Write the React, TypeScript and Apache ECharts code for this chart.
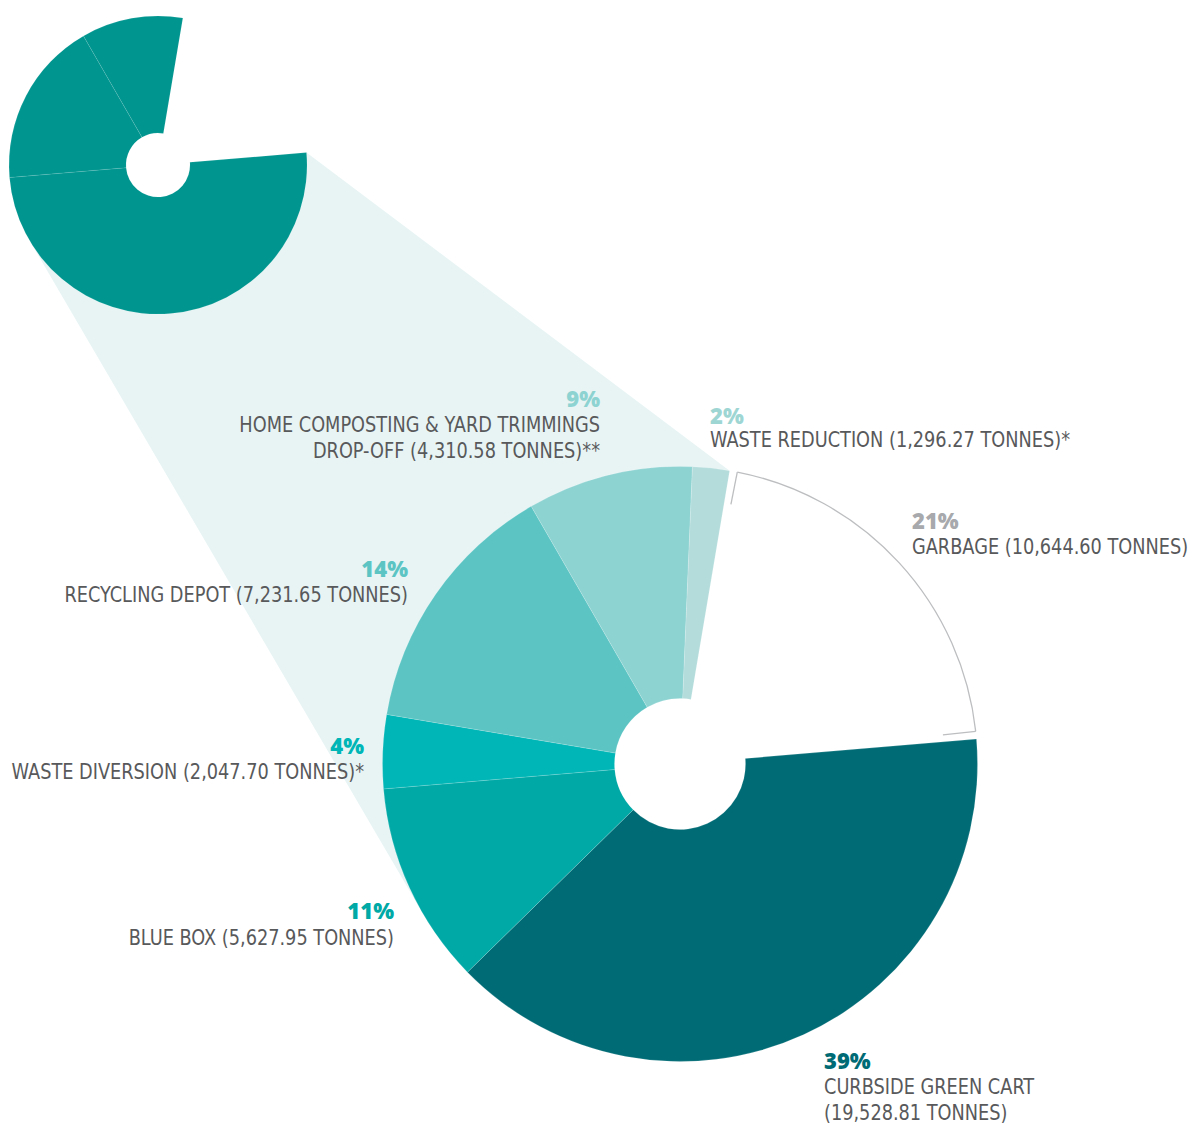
import React, { useEffect, useRef } from "react";
import * as echarts from "echarts";

// ---------- data ----------
const categories = [
  "GARBAGE",
  "CURBSIDE GREEN CART",
  "BLUE BOX",
  "WASTE DIVERSION",
  "RECYCLING DEPOT",
  "HOME COMPOSTING & YARD TRIMMINGS DROP-OFF",
  "WASTE REDUCTION",
];
const percents = [21, 39, 11, 4, 14, 9, 2];
const tonnes = [10644.6, 19528.81, 5627.95, 2047.7, 7231.65, 4310.58, 1296.27];
const notes = ["", "", "", "*", "", "**", "*"];
// diverted categories grouped in the zoomed pie (indexes into the arrays above)
const zoomGroups = [[1, 2], [3, 4], [5, 6]];

// ---------- styles / layout ----------
const sliceColors = ["#FFFFFF", "#006B75", "#00A9A6", "#00B6B6", "#5CC5C4", "#8DD3D2", "#B3DCDB"];
const pctColors = ["#A7A9AC", "#006B75", "#00A9A6", "#00B6B6", "#5CC5C4", "#8DD3D2", "#9ED6D4"];
const nameColor = "#58595B";
const zoomColor = "#00958F";
const funnelColor = "#E8F4F4";
const outlineColor = "#BCBEC0";

const MAIN = { cx: 680, cy: 764, r0: 65.5, r: 297.5 };
const ZOOM = { cx: 158, cy: 165, r0: 32, r: 149 };
const START_COMPASS = 9.6; // degrees clockwise from 12 o'clock where the first slice starts
const OUTLINE_INSET = 1.5;
const OUTLINE_LEN = 33;

const labelLayout = [
  { x: 912, align: "left", pctY: 520, nameY: 547, split: "" },
  { x: 824, align: "left", pctY: 1060, nameY: 1087, split: "CART " },
  { x: 394, align: "right", pctY: 910, nameY: 938, split: "" },
  { x: 364, align: "right", pctY: 745, nameY: 772, split: "" },
  { x: 408, align: "right", pctY: 568, nameY: 595, split: "" },
  { x: 600, align: "right", pctY: 398, nameY: 425, split: "TRIMMINGS " },
  { x: 710, align: "left", pctY: 415, nameY: 440, split: "" },
];
const LINE_H = 26;
const NAME_FONT = "'DejaVu Sans Condensed', 'DejaVu Sans', sans-serif";
const NAME_SCALE_X = 0.897;
const PCT_FONT = "'Open Sans', 'Noto Sans', sans-serif";

const fmt = (v: number) =>
  v.toLocaleString("en-US", { minimumFractionDigits: 2, maximumFractionDigits: 2 });

const rad = (d: number) => (d * Math.PI) / 180;
const pt = (c: { cx: number; cy: number }, R: number, compass: number) => [
  c.cx + R * Math.sin(rad(compass)),
  c.cy - R * Math.cos(rad(compass)),
];

function buildOption() {
  const total = percents.reduce((a, b) => a + b, 0);
  const echStart = 90 - START_COMPASS;
  const garbStart = START_COMPASS;
  const garbEnd = START_COMPASS + (360 * percents[0]) / total;

  // ---- funnel polygon (upper edge joins garbage edges, lower edge is common tangent) ----
  const dx = MAIN.cx - ZOOM.cx;
  const dy = MAIN.cy - ZOOM.cy;
  const D = Math.hypot(dx, dy);
  const dAng = Math.atan2(dy, dx);
  const phi = Math.acos((ZOOM.r - MAIN.r) / D);
  const mAng = dAng + phi;
  const m = [Math.cos(mAng), Math.sin(mAng)];
  const T1 = [ZOOM.cx + ZOOM.r * m[0], ZOOM.cy + ZOOM.r * m[1]];
  const T2 = [MAIN.cx + MAIN.r * m[0], MAIN.cy + MAIN.r * m[1]];
  const compassOf = (c: { cx: number; cy: number }, p: number[]) => {
    let a = (Math.atan2(p[0] - c.cx, -(p[1] - c.cy)) * 180) / Math.PI;
    if (a < 0) a += 360;
    return a;
  };
  const t2c = compassOf(MAIN, T2);
  const t1c = compassOf(ZOOM, T1);
  const poly: number[][] = [];
  poly.push(pt(ZOOM, ZOOM.r, garbEnd));
  poly.push(pt(MAIN, MAIN.r, garbStart));
  const mainFrom = garbStart + 360;
  for (let i = 1; i < 12; i++) {
    const a = mainFrom + ((t2c - mainFrom) * i) / 12;
    poly.push(pt(MAIN, MAIN.r - 2, a));
  }
  poly.push(T2);
  poly.push(T1);
  for (let i = 1; i < 12; i++) {
    const a = t1c + ((garbEnd - t1c) * i) / 12;
    poly.push(pt(ZOOM, ZOOM.r - 2, a));
  }

  const graphics: any[] = [
    {
      type: "polygon",
      z: -10,
      silent: true,
      shape: { points: poly },
      style: { fill: funnelColor },
    },
  ];

  // ---- garbage outline ----
  const oa = garbStart + OUTLINE_INSET;
  const ob = garbEnd - OUTLINE_INSET;
  graphics.push({
    type: "arc",
    z: 50,
    silent: true,
    shape: {
      cx: MAIN.cx,
      cy: MAIN.cy,
      r: MAIN.r,
      startAngle: rad(oa - 90),
      endAngle: rad(ob - 90),
      clockwise: true,
    },
    style: { stroke: outlineColor, lineWidth: 1.3, fill: "none" },
  });
  [oa, ob].forEach((a) => {
    const p1 = pt(MAIN, MAIN.r, a);
    const p2 = pt(MAIN, MAIN.r - OUTLINE_LEN, a);
    graphics.push({
      type: "line",
      z: 50,
      silent: true,
      shape: { x1: p1[0], y1: p1[1], x2: p2[0], y2: p2[1] },
      style: { stroke: outlineColor, lineWidth: 1.3 },
    });
  });

  // ---- labels ----
  categories.forEach((cat, i) => {
    const L = labelLayout[i];
    graphics.push({
      type: "text",
      z: 60,
      silent: true,
      x: L.x,
      y: L.pctY,
      style: {
        text: `${percents[i]}%`,
        fill: pctColors[i],
        fontFamily: PCT_FONT,
        fontWeight: 800,
        fontSize: 22,
        align: L.align,
        verticalAlign: "middle",
      },
    });
    const full = `${cat} (${fmt(tonnes[i])} TONNES)${notes[i]}`;
    let lines = [full];
    if (L.split) {
      const k = full.indexOf(L.split) + L.split.length;
      lines = [full.slice(0, k).trim(), full.slice(k).trim()];
    }
    lines.forEach((ln, j) => {
      graphics.push({
        type: "text",
        z: 60,
        silent: true,
        x: L.x,
        y: L.nameY + j * LINE_H,
        scaleX: NAME_SCALE_X,
        style: {
          text: ln,
          fill: nameColor,
          fontFamily: NAME_FONT,
          fontSize: 22,
          align: L.align,
          verticalAlign: "middle",
        },
      });
    });
  });

  const mainData = categories.map((c, i) => ({
    name: c,
    value: percents[i],
    itemStyle: { color: sliceColors[i] },
  }));
  const zoomData = [
    { name: categories[0], value: percents[0], itemStyle: { color: "rgba(0,0,0,0)", borderWidth: 0 } },
    ...zoomGroups.map((g) => ({
      name: g.map((k) => categories[k]).join(" + "),
      value: g.reduce((s, k) => s + percents[k], 0),
      itemStyle: { color: zoomColor },
    })),
  ];

  return {
    animation: false,
    series: [
      {
        type: "pie",
        name: "zoom",
        silent: true,
        center: [ZOOM.cx, ZOOM.cy],
        radius: [ZOOM.r0, ZOOM.r],
        startAngle: echStart,
        clockwise: true,
        label: { show: false },
        labelLine: { show: false },
        emphasis: { disabled: true },
        itemStyle: { borderColor: "rgba(255,255,255,0.12)", borderWidth: 0.8 },
        data: zoomData,
        z: 2,
      },
      {
        type: "pie",
        name: "main",
        silent: true,
        center: [MAIN.cx, MAIN.cy],
        radius: [MAIN.r0, MAIN.r],
        startAngle: echStart,
        clockwise: true,
        label: { show: false },
        labelLine: { show: false },
        emphasis: { disabled: true },
        itemStyle: { borderColor: "rgba(255,255,255,0.25)", borderWidth: 0.6 },
        data: mainData,
        z: 2,
      },
    ],
    graphic: { elements: graphics },
  };
}

export default function App() {
  const ref = useRef<HTMLDivElement>(null);
  useEffect(() => {
    document.body.style.margin = "0";
    if (!ref.current) return;
    const chart = echarts.init(ref.current, undefined, { renderer: "svg" });
    chart.setOption(buildOption() as any);
    return () => chart.dispose();
  }, []);
  return <div ref={ref} style={{ width: 1192, height: 1127, background: "#fff" }} />;
}
